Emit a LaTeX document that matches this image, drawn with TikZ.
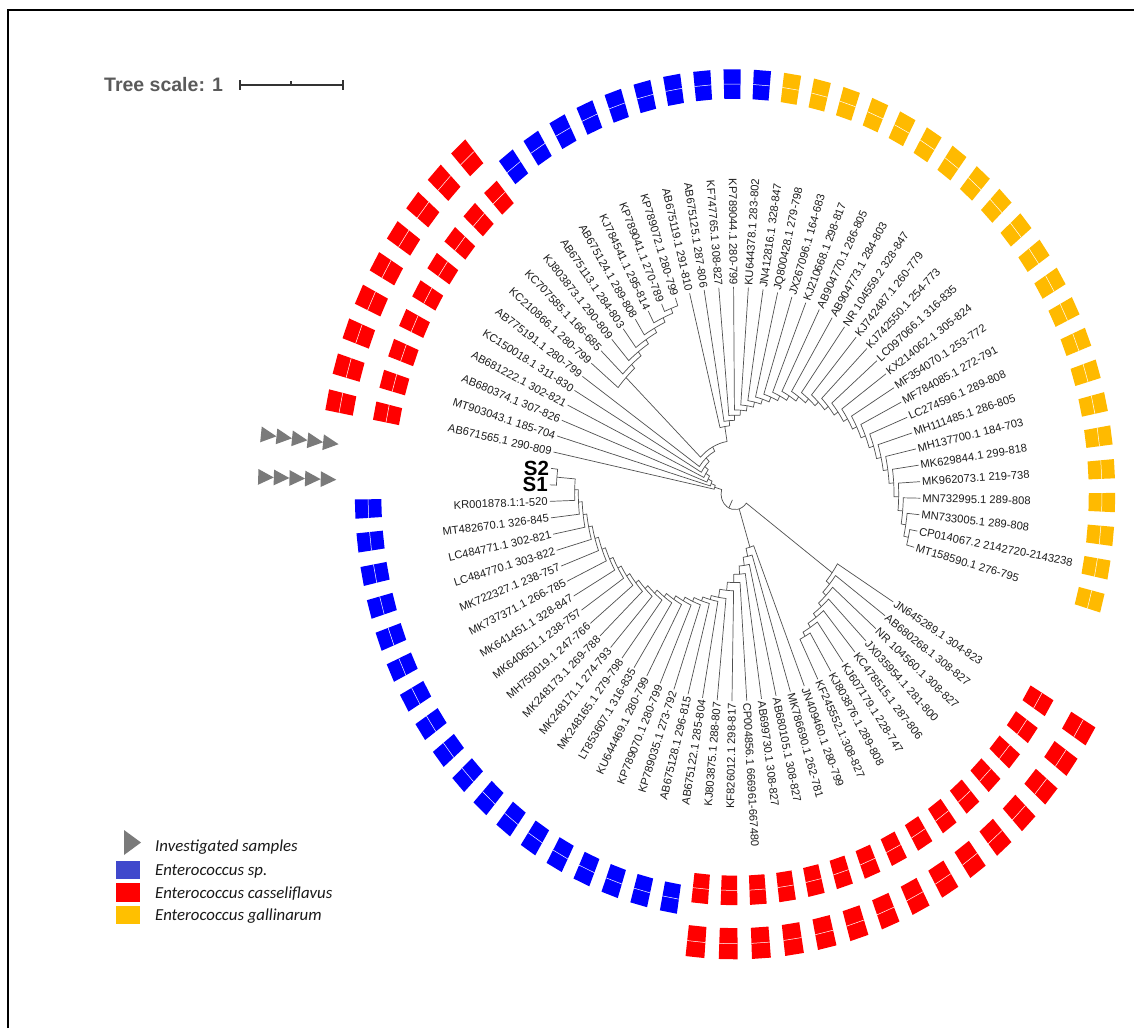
\documentclass[tikz,border=0pt]{standalone}
\usepackage{fontspec}
\setmainfont{Liberation Sans}
\newfontfamily\legfont{Carlito}
\definecolor{cblue}{RGB}{0,0,255}
\definecolor{cred}{RGB}{255,0,0}
\definecolor{cyel}{RGB}{255,186,0}
\definecolor{lblue}{RGB}{64,72,204}
\definecolor{lyel}{RGB}{255,192,0}
\definecolor{tgray}{RGB}{122,122,122}
\definecolor{txt}{RGB}{30,30,30}
\definecolor{brc}{RGB}{80,80,80}
\definecolor{scalegray}{RGB}{90,90,90}

\newcommand\SetAng[2]{\expandafter\xdef\csname tA@#1\endcsname{#2}}
\newcommand\SetRad[2]{\expandafter\xdef\csname tR@#1\endcsname{#2}}

\newcommand\Leaf[2]{%
  \pgfmathsetmacro\tzLa{-31.4-4.58*#1}%
  \SetAng{L#1}{\tzLa}\SetRad{L#1}{0.505}%
  \pgfmathsetmacro\tzLv{atan2(410*sin(\tzLa),367*cos(\tzLa))}%
  \pgfmathsetmacro\tzLc{cos(\tzLa)}%
  \ifdim\tzLc pt<0pt
    \pgfmathsetmacro\tzLr{\tzLv+180}%
    \node[lbl,rotate=\tzLr,anchor=east] (L#1) at (\tzLa:0.509) {#2};%
  \else
    \node[lbl,rotate=\tzLv,anchor=west] (L#1) at (\tzLa:0.509) {#2};%
  \fi}

\newcommand\SLeaf[2]{%
  \pgfmathsetmacro\tzLa{-31.4-4.58*#1}%
  \SetAng{L#1}{\tzLa}\SetRad{L#1}{0.505}%
  \node[slbl,anchor=east] (L#1) at (\tzLa:0.509) {#2};}

\newcommand\INode[4]{%
  \edef\tzA{\csname tA@#2\endcsname}\edef\tzB{\csname tA@#3\endcsname}%
  \edef\tzRA{\csname tR@#2\endcsname}\edef\tzRB{\csname tR@#3\endcsname}%
  \pgfmathsetmacro\tzN{(\tzA+\tzB)/2}%
  \SetAng{#1}{\tzN}\SetRad{#1}{#4}%
  \draw[branch] (\tzA:\tzRA) -- (\tzA:#4) arc[start angle=\tzA, end angle=\tzB, radius=#4] -- (\tzB:\tzRB);}

\newcommand\Blk[4]{%
  \fill[#3] ({#1-1.3}:{#2-#4}) -- ({#1+1.3}:{#2-#4}) -- ({#1+1.3}:{#2+#4}) -- ({#1-1.3}:{#2+#4}) -- cycle;
  \draw[white,line width=0.5pt] ({#1-1.3}:#2) -- ({#1+1.3}:#2);}

\begin{document}
\begin{tikzpicture}[x=1pt,y=1pt,
  branch/.style={draw=brc, line width=0.7pt},
  lbl/.style={font=\fontsize{11.2}{13}\selectfont, text=txt, inner sep=0.4pt},
  slbl/.style={font=\bfseries\fontsize{20.5}{23}\selectfont, text=black, inner sep=0.4pt},
  leg/.style={font=\legfont\itshape\fontsize{16.8}{19}\selectfont, text=black!90, inner sep=0pt}]
\useasboundingbox (0,0) rectangle (1134,-1028);
\fill[white] (0,0) rectangle (1134,-1028);
\draw[line width=2pt] (8,-1028) -- (8,-10) -- (1134,-10);

% tree scale
\node[font=\bfseries\fontsize{19.5}{22}\selectfont, text=scalegray, anchor=base west, inner sep=0pt] (ts) at (104,-91) {Tree scale: 1};
\coordinate (sb1) at (240,-85);
\coordinate (sb2) at (343,-85);
\draw[line width=1.3pt, draw=black!80] (sb1) -- (sb2);
\draw[line width=1.3pt, draw=black!80] (240,-80) -- (240,-90) (343,-80) -- (343,-90) (291,-81) -- (291,-85);

% legend
\fill[tgray] (124,-830) -- (124,-855) -- (141,-842.5) -- cycle;
\node[leg, anchor=base west] (lg1) at (155,-851) {Investigated samples};
\fill[lblue] (116,-861) rectangle (140,-879);
\node[leg, anchor=base west] (lg2) at (155,-875) {Enterococcus sp.};
\fill[cred] (116,-883) rectangle (140,-902);
\node[leg, anchor=base west] (lg3) at (155,-898) {Enterococcus casseliflavus};
\fill[lyel] (116,-906) rectangle (140,-924);
\node[leg, anchor=base west] (lg4) at (155,-920) {Enterococcus gallinarum};

\begin{scope}[shift={(735,-494)}, xscale=367, yscale=410]
% leaves
\Leaf{0}{JN645289.1 304-823}
\Leaf{1}{AB680268.1 308-827}
\Leaf{2}{NR 104560.1 308-827}
\Leaf{3}{JX035954.1 281-800}
\Leaf{4}{KC478515.1 287-806}
\Leaf{5}{KJ607179.1 228-747}
\Leaf{6}{KJ803876.1 289-808}
\Leaf{7}{KF245552.1:308-827}
\Leaf{8}{JN409460.1 280-799}
\Leaf{9}{MK786690.1 262-781}
\Leaf{10}{AB680105.1 308-827}
\Leaf{11}{AB699730.1 308-827}
\Leaf{12}{CP004856.1 666961-667480}
\Leaf{13}{KF826012.1 298-817}
\Leaf{14}{KJ803875.1 288-807}
\Leaf{15}{AB675122.1 285-804}
\Leaf{16}{AB675128.1 296-815}
\Leaf{17}{KP789035.1 273-792}
\Leaf{18}{KP789070.1 280-799}
\Leaf{19}{KU644469.1 280-799}
\Leaf{20}{LT853607.1 316-835}
\Leaf{21}{MK248165.1 279-798}
\Leaf{22}{MK248171.1 274-793}
\Leaf{23}{MK248173.1 269-788}
\Leaf{24}{MH759019.1 247-766}
\Leaf{25}{MK640651.1 238-757}
\Leaf{26}{MK641451.1 328-847}
\Leaf{27}{MK737371.1 266-785}
\Leaf{28}{MK722327.1 238-757}
\Leaf{29}{LC484770.1 303-822}
\Leaf{30}{LC484771.1 302-821}
\Leaf{31}{MT482670.1 326-845}
\Leaf{32}{KR001878.1:1-520}
\SLeaf{33}{S1}
\SLeaf{34}{S2}
\Leaf{35}{AB671565.1 290-809}
\Leaf{36}{MT903043.1 185-704}
\Leaf{37}{AB680374.1 307-826}
\Leaf{38}{AB681222.1 302-821}
\Leaf{39}{KC150018.1 311-830}
\Leaf{40}{AB775191.1 280-799}
\Leaf{41}{KC210866.1 280-799}
\Leaf{42}{KC707585.1 166-685}
\Leaf{43}{KJ803873.1 290-809}
\Leaf{44}{AB675113.1 284-803}
\Leaf{45}{AB675124.1 289-808}
\Leaf{46}{KJ784541.1 295-814}
\Leaf{47}{KP789041.1 270-789}
\Leaf{48}{KP789072.1 280-799}
\Leaf{49}{AB675119.1 291-810}
\Leaf{50}{AB675125.1 287-806}
\Leaf{51}{KF747765.1 308-827}
\Leaf{52}{KP789044.1 280-799}
\Leaf{53}{KU644378.1 283-802}
\Leaf{54}{JN412816.1 328-847}
\Leaf{55}{JQ800428.1 279-798}
\Leaf{56}{JX267096.1 164-683}
\Leaf{57}{KJ210668.1 298-817}
\Leaf{58}{AB904770.1 286-805}
\Leaf{59}{AB904773.1 284-803}
\Leaf{60}{NR 104559.2 328-847}
\Leaf{61}{KJ742487.1 260-779}
\Leaf{62}{KJ742550.1 254-773}
\Leaf{63}{LC097066.1 316-835}
\Leaf{64}{KX214062.1 305-824}
\Leaf{65}{MF354070.1 253-772}
\Leaf{66}{MF784085.1 272-791}
\Leaf{67}{LC274596.1 289-808}
\Leaf{68}{MH111485.1 286-805}
\Leaf{69}{MH137700.1 184-703}
\Leaf{70}{MK629844.1 299-818}
\Leaf{71}{MK962073.1 219-738}
\Leaf{72}{MN732995.1 289-808}
\Leaf{73}{MN733005.1 289-808}
\Leaf{74}{CP014067.2 2142720-2143238}
\Leaf{75}{MT158590.1 276-795}

% lower-right clade
\INode{R6}{L6}{L7}{0.396}
\INode{R5}{L5}{R6}{0.3845}
\INode{R4}{L4}{R5}{0.373}
\INode{R3}{L3}{R4}{0.3615}
\INode{R2}{L2}{R3}{0.350}
\INode{R1}{L1}{R2}{0.3385}
\INode{R0}{L0}{R1}{0.327}
% lower ladder
\INode{Q33}{L33}{L34}{0.487}
\foreach \k in {32,31,...,8}{%
  \pgfmathtruncatemacro\kk{\k+1}%
  \pgfmathsetmacro\rr{\k>13 ? 0.256+(\k-14)*0.01005 : 0.136+(\k-8)*0.02}%
  \INode{Q\k}{L\k}{Q\kk}{\rr}}
% upper-left ladder
\INode{D47}{L47}{L48}{0.485}
\foreach \k in {46,45,...,41}{%
  \pgfmathtruncatemacro\kk{\k+1}%
  \pgfmathsetmacro\rr{0.411+(\k-41)*0.0123}%
  \INode{D\k}{L\k}{D\kk}{\rr}}
% upper-right ladder
\INode{V74}{L74}{L75}{0.484}
\foreach \k in {73,72,...,49}{%
  \pgfmathtruncatemacro\kk{\k+1}%
  \pgfmathsetmacro\rr{0.167+(\k-49)*0.01268}%
  \INode{V\k}{L\k}{V\kk}{\rr}}
\INode{U}{D41}{V49}{0.13}
\INode{F40}{L40}{U}{0.118}
\INode{F39}{L39}{F40}{0.106}
\INode{F38}{L38}{F39}{0.094}
\INode{F37}{L37}{F38}{0.082}
\INode{F36}{L36}{F37}{0.07}
\INode{F35}{L35}{F36}{0.058}
\INode{ROOT}{R0}{F35}{0.038}
\edef\tzQ{\csname tA@Q8\endcsname}
\edef\tzRt{\csname tA@ROOT\endcsname}
\draw[branch] (\tzQ:0.038) -- (\tzQ:0.136);
\draw[branch] (\tzRt:0.016) -- (\tzRt:0.038);

% rings
\foreach \j in {0,...,14}{\pgfmathsetmacro\tzB{-31.4-4.58*\j}\Blk{\tzB}{0.967}{cred}{0.036}\Blk{\tzB}{1.097}{cred}{0.038}}
\foreach \j in {35,...,43}{\pgfmathsetmacro\tzB{-31.4-4.58*\j}\Blk{\tzB}{0.967}{cred}{0.036}\Blk{\tzB}{1.097}{cred}{0.038}}
\foreach \j in {15,...,32}{\pgfmathsetmacro\tzB{-31.4-4.58*\j}\Blk{\tzB}{1.0}{cblue}{0.036}}
\foreach \j in {44,...,53}{\pgfmathsetmacro\tzB{-31.4-4.58*\j}\Blk{\tzB}{1.0}{cblue}{0.036}}
\foreach \j in {54,...,75}{\pgfmathsetmacro\tzB{-31.4-4.58*\j}\Blk{\tzB}{1.0}{cyel}{0.036}}
% investigated samples markers
\foreach \j in {33,34}{\foreach \i in {0,...,4}{%
  \pgfmathsetmacro\tzTa{-31.4-4.58*\j+0.7}%
  \pgfmathsetmacro\tzTb{1.30-0.0426*\i}%
  \pgfmathsetmacro\tzTt{\tzTb-0.0426}%
  \pgfmathsetmacro\tzTh{1.104/\tzTb}%
  \fill[tgray] ({\tzTa+\tzTh}:\tzTb) -- ({\tzTa-\tzTh}:\tzTb) -- (\tzTa:\tzTt) -- cycle;}}
\end{scope}
\end{tikzpicture}
\end{document}
